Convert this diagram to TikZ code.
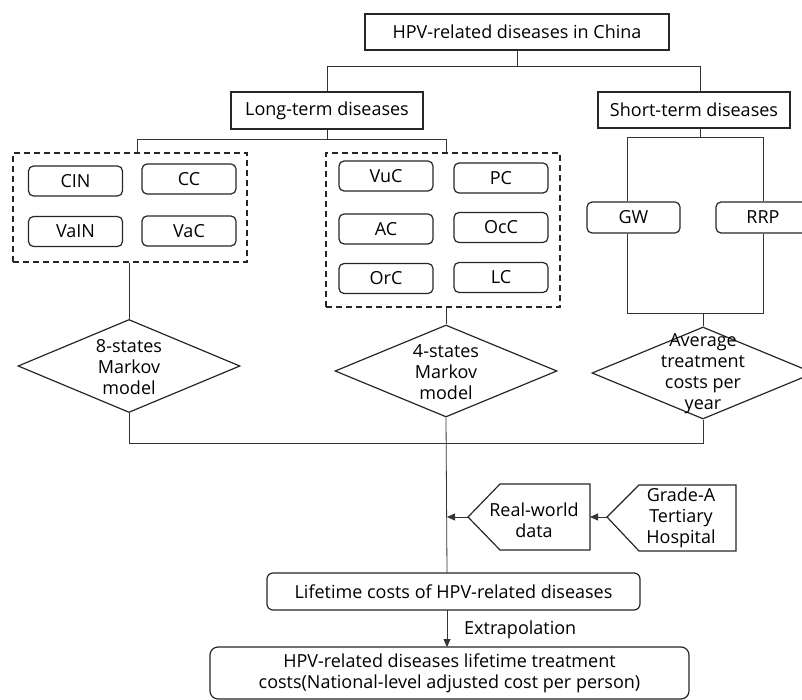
\documentclass[tikz,border=0pt]{standalone}
\usepackage{fontspec}
\setmainfont{Open Sans}
\usetikzlibrary{shapes.geometric,arrows.meta,calc}
\begin{document}
\begin{tikzpicture}[x=1pt,y=-1pt,
  font=\fontsize{18}{21}\selectfont,
  every node/.style={text=black},
  box/.style={draw=black!85,line width=1.2pt,inner sep=0pt,align=center},
  sbox/.style={box,rounded corners=5pt,minimum width=94pt,minimum height=30pt},
  dbox/.style={draw=black!85,dash pattern=on 6pt off 4pt,line width=1.2pt,inner sep=0pt},
  dia/.style={draw=black!85,diamond,line width=1.2pt,inner sep=0pt,minimum width=222pt,minimum height=93pt},
  txt/.style={align=center,inner sep=0pt},
  conn/.style={draw=black!80,line width=0.8pt},
  arr/.style={conn,-{Triangle[length=8pt,width=7pt]}}]
\useasboundingbox (0,0) rectangle (802,700);

% top level
\node[box,minimum width=304pt,minimum height=36pt] (top) at (517,32) {HPV-related diseases in China};
\node[box,minimum width=192pt,minimum height=37pt] (long) at (327,110.5) {Long-term diseases};
\node[box,minimum width=192pt,minimum height=36pt] (short) at (694,110) {Short-term diseases};

% dashed groups
\node[dbox,minimum width=234pt,minimum height=109pt] (lbox) at (130,207.5) {};
\node[dbox,minimum width=234pt,minimum height=154pt] (mbox) at (443,230) {};

\node[sbox] (cin) at (75.5,181) {CIN};
\node[sbox] (cc) at (189,179) {CC};
\node[sbox] (vain) at (75.5,231.5) {VaIN};
\node[sbox] (vac) at (189,231) {VaC};

\node[sbox] (vuc) at (386,176) {VuC};
\node[sbox] (pc) at (501,178) {PC};
\node[sbox] (ac) at (386,229) {AC};
\node[sbox] (occ) at (501,227.5) {OcC};
\node[sbox] (orc) at (386,278.5) {OrC};
\node[sbox] (lc) at (501,277.5) {LC};

% short-term children
\node[sbox,minimum width=93pt,minimum height=31pt] (gw) at (633.5,217.5) {GW};
\node[sbox,minimum width=94pt,minimum height=31pt] (rrp) at (763,217.5) {RRP};

% diamonds
\node[dia] (d1) at (129,366) {};
\node[txt] (t1) at (129,367) {8-states\\Markov\\model};
\node[dia,minimum height=92pt] (d2) at (446,371) {};
\node[txt] (t2) at (446,372) {4-states\\Markov\\model};
\node[dia,minimum height=92pt] (d3) at (703,373) {};
\node[txt] (t3) at (703,374) {Average\\treatment\\costs per\\year};

% data sources (pentagons)
\coordinate (rwtip) at (468,517);
\coordinate (rwR) at (590,517);
\draw[draw=black!85,line width=1.2pt] (rwtip) -- (500,484) -- (590,484) -- (590,550) -- (500,550) -- cycle;
\node[txt] (rw) at (534,520) {Real-world\\data};
\coordinate (gatip) at (607,517);
\draw[draw=black!85,line width=1.2pt] (gatip) -- (639,485) -- (736,485) -- (736,551) -- (639,551) -- cycle;
\node[txt] (ga) at (681,518) {Grade-A\\Tertiary\\Hospital};

% bottom boxes
\node[box,rounded corners=6pt,minimum width=373pt,minimum height=37pt] (life) at (453.5,591.5) {Lifetime costs of HPV-related diseases};
\node[box,rounded corners=8pt,minimum width=479pt,minimum height=52pt] (final) at (449.5,673) {HPV-related diseases lifetime treatment\\costs(National-level adjusted cost per person)};

% junction coordinates
\coordinate (j1) at (517,66);
\coordinate (sN) at (700,92);
\coordinate (sS) at (700,128);
\coordinate (sJ) at (700,137);
\coordinate (j2) at (327,139);
\coordinate (lT) at (137,153);
\coordinate (mT) at (446,153);
\coordinate (j3) at (627,137);
\coordinate (j4) at (763,137);
\coordinate (j5) at (703,313);
\coordinate (j6) at (447,443);
\coordinate (lifeN) at (447,573);
\coordinate (lifeS) at (447,610);
\coordinate (finN) at (447,647);

% connectors
\draw[conn] (top.south) -- (j1);
\draw[conn] (long.north) -- (long.north |- j1) -- (sN |- j1) -- (sN);
\draw[conn] (long.south) -- (j2);
\draw[conn] (lT) -- (lT |- j2) -- (mT |- j2) -- (mT);
\draw[conn] (sS) -- (sJ);
\draw[conn] (gw.north -| j3) -- (j3) -- (j4) -- (rrp.north);
\draw[conn] (gw.south -| j3) -- (j3 |- j5) -- (j4 |- j5) -- (rrp.south);
\draw[conn] (j5) -- (d3.north);
\draw[conn] (lbox.south -| d1.north) -- (d1.north);
\draw[conn] (mbox.south -| d2.north) -- (d2.north);
\draw[conn] (d1.south) -- (d1.south |- j6) -- (d3.south |- j6) -- (d3.south);
\draw[conn] (d2.south) -- (lifeN);
\draw[arr] (gatip) -- (rwR);
\draw[arr] (rwtip) -- (rwtip -| j6);
\draw[arr] (lifeS) -- (finN);
\node[anchor=west,inner sep=0pt] (ex) at (464,630) {Extrapolation};
\end{tikzpicture}
\end{document}
